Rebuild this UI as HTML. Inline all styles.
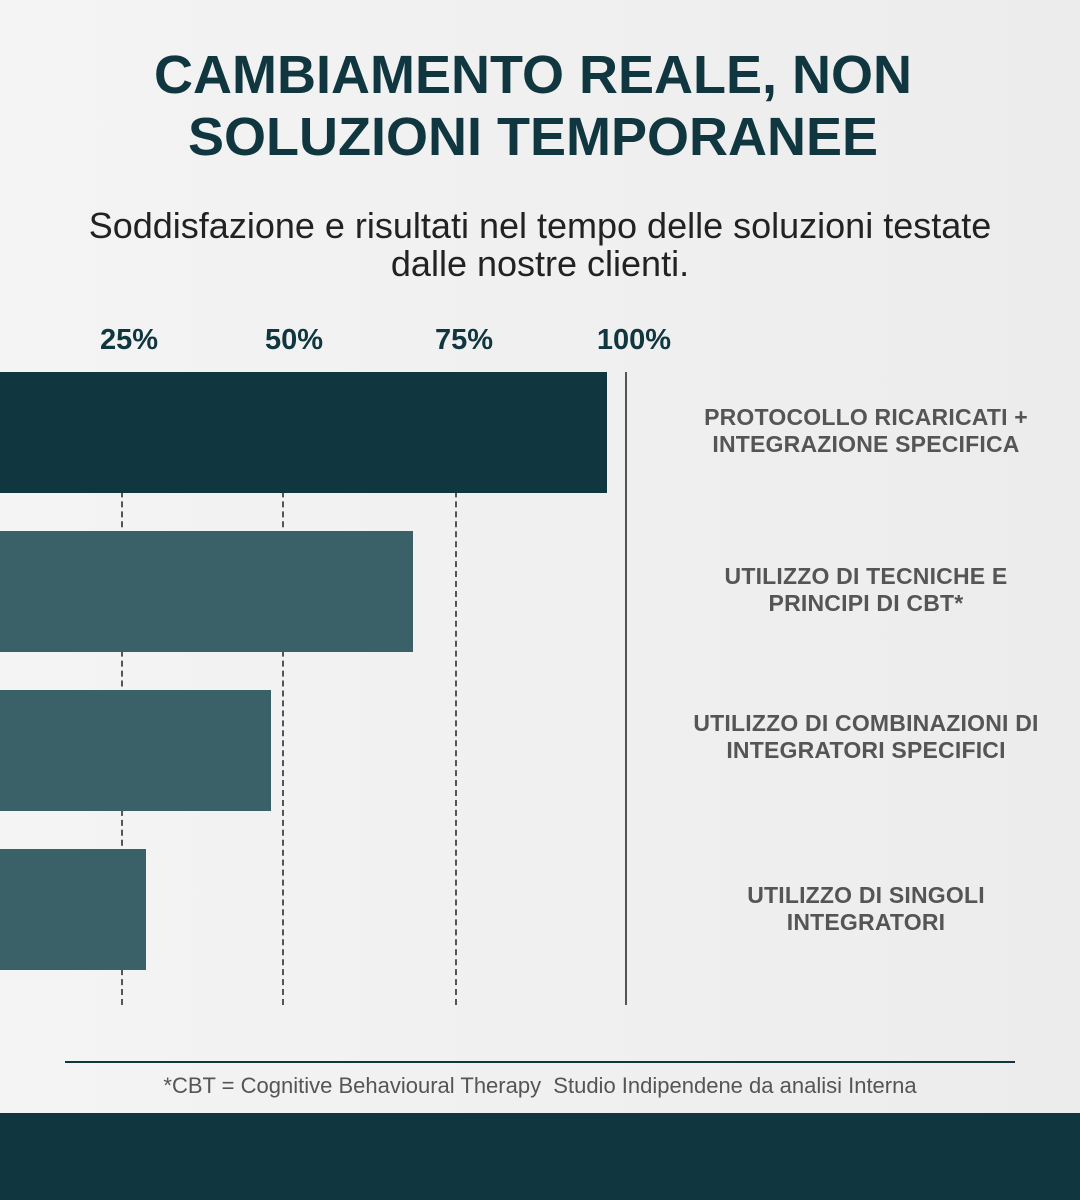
<!DOCTYPE html>
<html><head><meta charset="utf-8"><style>
body{margin:0;width:1080px;height:1200px;position:relative;overflow:hidden;background:linear-gradient(90deg,#f4f4f4,#ececec);font-family:"Liberation Sans",sans-serif}
.a{position:absolute}
.t{left:0;width:1066px;text-align:center;color:#10363f;font-weight:bold;font-size:54px;line-height:62px;top:44px}
.s{left:0;width:1080px;text-align:center;color:#222;font-size:36px;line-height:38px;top:207px}
.tk{top:324px;color:#10363f;font-weight:bold;font-size:29px;width:120px;text-align:center}
.d{top:372px;height:633px;border-left:2px dashed #555;width:0}
.bar{left:0;height:121px}
.l{left:668px;width:396px;text-align:center;color:#555;font-weight:bold;font-size:23px;line-height:27px;letter-spacing:0.2px}
</style></head><body>
<div class="a t">CAMBIAMENTO REALE, NON<br>SOLUZIONI TEMPORANEE</div>
<div class="a s">Soddisfazione e risultati nel tempo delle soluzioni testate<br>dalle nostre clienti.</div>
<div class="a tk" style="left:69px">25%</div>
<div class="a tk" style="left:234px">50%</div>
<div class="a tk" style="left:404px">75%</div>
<div class="a tk" style="left:574px">100%</div>
<div class="a d" style="left:121px"></div>
<div class="a d" style="left:282px"></div>
<div class="a d" style="left:455px"></div>
<div class="a" style="left:625px;top:372px;height:633px;width:2px;background:#555"></div>
<div class="a bar" style="top:372px;width:607px;background:#10363f"></div>
<div class="a bar" style="top:531px;width:413px;background:#3b6168"></div>
<div class="a bar" style="top:690px;width:271px;background:#3b6168"></div>
<div class="a bar" style="top:849px;width:146px;background:#3b6168"></div>
<div class="a l" style="top:404px">PROTOCOLLO RICARICATI +<br>INTEGRAZIONE SPECIFICA</div>
<div class="a l" style="top:563px">UTILIZZO DI TECNICHE E<br>PRINCIPI DI CBT*</div>
<div class="a l" style="top:710px">UTILIZZO DI COMBINAZIONI DI<br>INTEGRATORI SPECIFICI</div>
<div class="a l" style="top:882px">UTILIZZO DI SINGOLI<br>INTEGRATORI</div>
<div class="a" style="left:65px;top:1061px;width:950px;height:2px;background:#10363f"></div>
<div class="a" style="left:0;width:1080px;top:1073px;text-align:center;color:#555;font-size:22px">*CBT = Cognitive Behavioural Therapy&nbsp; Studio Indipendene da analisi Interna</div>
<div class="a" style="left:0;top:1113px;width:1080px;height:87px;background:#10363f"></div>
</body></html>
